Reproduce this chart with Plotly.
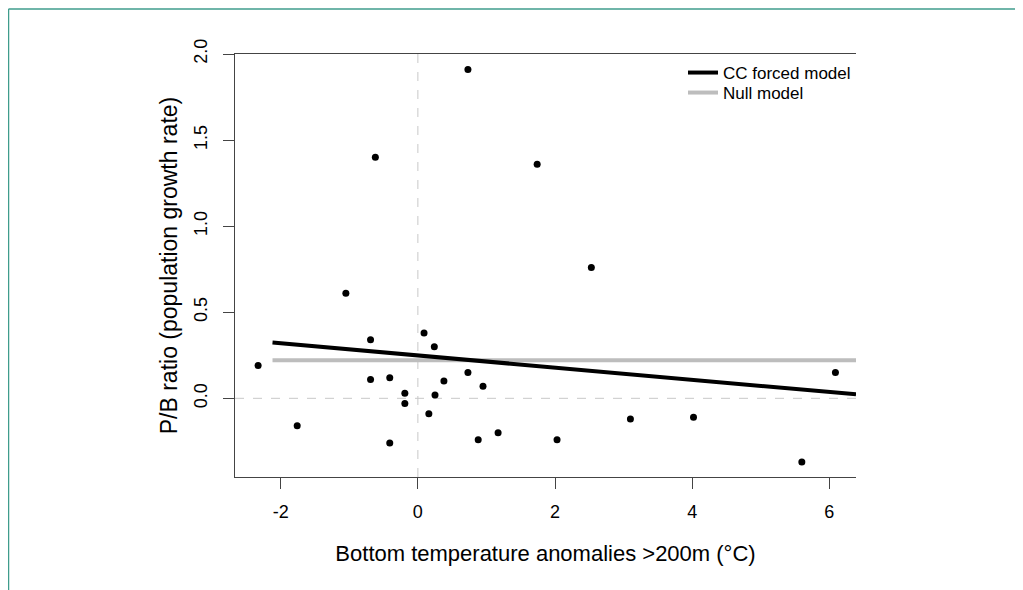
import plotly.graph_objects as go

# ---- data ----
temp_anom = [-2.33, -1.76, -1.05, -0.69, -0.69, -0.62, -0.41, -0.41, -0.19, -0.19,
             0.09, 0.16, 0.24, 0.25, 0.38, 0.73, 0.73, 0.88, 0.95, 1.17,
             1.74, 2.03, 2.53, 3.10, 4.02, 5.60, 6.09]
pb_ratio = [0.19, -0.16, 0.61, 0.34, 0.11, 1.40, 0.12, -0.26, 0.03, -0.03,
            0.38, -0.09, 0.30, 0.02, 0.10, 1.91, 0.15, -0.24, 0.07, -0.20,
            1.36, -0.24, 0.76, -0.12, -0.11, -0.37, 0.15]

cc_x = [-2.12, 6.39]
cc_y = [0.324, 0.023]
null_x = [-2.12, 6.39]
null_y = [0.221, 0.221]

x_ticks = [-2, 0, 2, 4, 6]
x_tick_labels = ["-2", "0", "2", "4", "6"]
y_ticks = [0.0, 0.5, 1.0, 1.5, 2.0]
y_tick_labels = ["0.0", "0.5", "1.0", "1.5", "2.0"]

x_range = [-2.667, 6.39]
y_range = [-0.457, 2.0]

FONT = "Liberation Sans, Arial, Helvetica, sans-serif"

# page has an 8px body margin; work in figure pixels = page pixels - 8
OFF = 8
W, H = 1023 - OFF, 590 - OFF
ml, mt = 235 - OFF, 54 - OFF
mr = W - (856 - OFF)
mb = H - (477 - OFF)
pw = W - ml - mr
ph = H - mt - mb


def px_x(page_px):
    return (page_px - OFF - ml) / pw


def px_y(page_py):
    return (H - mb - (page_py - OFF)) / ph


fig = go.Figure()

fig.add_trace(go.Scatter(x=null_x, y=null_y, mode="lines", name="Null model",
                         line=dict(color="#bdbdbd", width=4), showlegend=False))
fig.add_trace(go.Scatter(x=cc_x, y=cc_y, mode="lines", name="CC forced model",
                         line=dict(color="black", width=4), showlegend=False))
fig.add_trace(go.Scatter(x=temp_anom, y=pb_ratio, mode="markers", name="data",
                         marker=dict(color="black", size=7), showlegend=False,
                         cliponaxis=False))

# legend-only traces, each in its own legend for precise placement
fig.add_trace(go.Scatter(x=[None], y=[None], mode="lines", name="CC forced model",
                         line=dict(color="black", width=4), legend="legend"))
fig.add_trace(go.Scatter(x=[None], y=[None], mode="lines", name="Null model",
                         line=dict(color="#bdbdbd", width=4), legend="legend2"))

shapes = [
    dict(type="line", xref="x", yref="paper", x0=0, x1=0, y0=0, y1=1,
         line=dict(color="#c8c8c8", width=1, dash="dash"), layer="below"),
    dict(type="line", xref="paper", yref="y", x0=0, x1=1, y0=0, y1=0,
         line=dict(color="#c8c8c8", width=1, dash="dash"), layer="below"),
    # teal frame (top and left edges)
    dict(type="line", xref="paper", yref="paper",
         x0=px_x(8.5), x1=px_x(8.5), y0=px_y(600), y1=px_y(9),
         line=dict(color="#3f9c8c", width=1.5)),
    dict(type="line", xref="paper", yref="paper",
         x0=px_x(8.5), x1=px_x(1030), y0=px_y(9), y1=px_y(9),
         line=dict(color="#3f9c8c", width=1.5)),
]

leg_common = dict(xanchor="left", yanchor="middle", bgcolor="rgba(0,0,0,0)",
                  font=dict(size=17, family=FONT), itemwidth=30, borderwidth=0)

fig.update_layout(
    width=W, height=H,
    margin=dict(l=ml, r=mr, t=mt, b=mb, pad=0),
    paper_bgcolor="white", plot_bgcolor="white",
    font=dict(family=FONT, color="black", size=17),
    shapes=shapes,
    legend=dict(x=px_x(683), y=px_y(73), **leg_common),
    legend2=dict(x=px_x(683), y=px_y(93), **leg_common),
    xaxis=dict(range=x_range, tickvals=x_ticks, ticktext=x_tick_labels,
               ticks="outside", ticklen=11, ticklabelstandoff=7,
               tickcolor="#444", tickwidth=1.2, showline=True, linecolor="#444",
               linewidth=1.3, mirror=True, showgrid=False, zeroline=False,
               tickfont=dict(size=18),
               title=dict(text="Bottom temperature anomalies >200m (°C)",
                          font=dict(size=22), standoff=24)),
    yaxis=dict(range=y_range, tickvals=y_ticks, ticktext=y_tick_labels, ticks="outside",
               ticklen=11, ticklabelstandoff=9, tickcolor="#444", tickwidth=1.2,
               showline=True,
               linecolor="#444", linewidth=1.3, showgrid=False, zeroline=False,
               tickangle=-90, tickfont=dict(size=18),
               title=dict(text="P/B ratio (population growth rate)",
                          font=dict(size=23), standoff=6)),
)

fig.write_html("out.html")
